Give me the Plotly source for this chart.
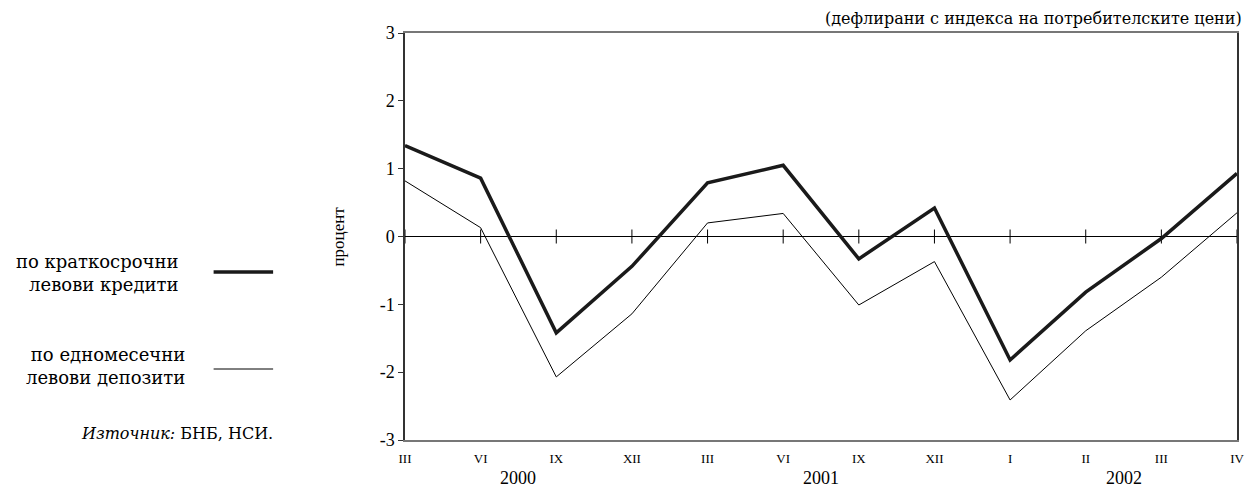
import plotly.graph_objects as go

periods = ["III", "VI", "IX", "XII", "III", "VI", "IX", "XII", "I", "II", "III", "IV"]
years = ["2000", "2001", "2002"]
year_pos = [1.5, 5.5, 9.5]
loans = [1.34, 0.86, -1.42, -0.44, 0.79, 1.05, -0.33, 0.42, -1.82, -0.82, -0.03, 0.93]
deposits = [0.82, 0.13, -2.07, -1.14, 0.20, 0.34, -1.01, -0.37, -2.41, -1.39, -0.60, 0.35]
y_ticks = [-3, -2, -1, 0, 1, 2, 3]
y_ticktext = ["-3", "-2", "-1", "0", "1", "2", "3"]

FONT = "Liberation Serif, Times New Roman, serif"
CYR = "DejaVu Serif, serif"
xs = list(range(len(periods)))

fig = go.Figure()
# zero-line tick marks
fig.add_trace(go.Scatter(x=xs, y=[0] * len(xs), mode="markers",
                         marker=dict(symbol="line-ns-open", size=10, color="black",
                                     line=dict(color="black", width=1)),
                         hoverinfo="skip", showlegend=False))
fig.add_trace(go.Scatter(x=xs, y=deposits, mode="lines",
                         line=dict(color="black", width=1),
                         name="по едномесечни левови депозити", showlegend=False))
fig.add_trace(go.Scatter(x=xs, y=loans, mode="lines",
                         line=dict(color="#1a1a1a", width=3.5),
                         name="по краткосрочни левови кредити", showlegend=False))

fig.update_layout(
    width=1248, height=479,
    margin=dict(l=397, r=12, t=25, b=47),
    paper_bgcolor="white", plot_bgcolor="white",
    font=dict(family=FONT, color="black", size=18),
    xaxis=dict(range=[0, 11], tickvals=xs, ticktext=periods, showgrid=False,
               zeroline=False, showline=True, linecolor="#777", linewidth=1.5,
               mirror=True, ticks="", ticklabelstandoff=6,
               tickfont=dict(size=13, family=FONT)),
    yaxis=dict(range=[-3, 3], tickvals=y_ticks, ticktext=y_ticktext, showgrid=False,
               zeroline=True, zerolinecolor="black", zerolinewidth=1,
               showline=True, linecolor="#333", linewidth=1.5, mirror=True,
               ticks="outside", ticklen=5, tickcolor="#333",
               tickfont=dict(size=18, family=FONT)),
)

def px_x(v):
    return (v - 405) / 839.0

def px_y(v):
    return (440 - v) / 407.0

for yr, p in zip(years, year_pos):
    fig.add_annotation(x=p, y=0, xref="x", yref="paper", text=yr, showarrow=False,
                       yanchor="top", yshift=-26, font=dict(size=18, family=FONT))

fig.add_annotation(x=px_x(338), y=px_y(237), xref="paper", yref="paper", text="процент",
                   textangle=-90, showarrow=False, xanchor="center", yanchor="middle",
                   font=dict(size=17, family=FONT))

fig.add_annotation(x=1, y=1, xref="paper", yref="paper", xanchor="right", yanchor="bottom",
                   yshift=3, xshift=7, text="(дефлирани с индекса на потребителските цени)",
                   showarrow=False, font=dict(size=16, family=CYR))

fig.add_annotation(x=px_x(178), y=px_y(273), xref="paper", yref="paper", xanchor="right",
                   yanchor="middle", align="right", showarrow=False,
                   text="по краткосрочни<br>левови кредити", font=dict(size=18, family=CYR))
fig.add_annotation(x=px_x(185), y=px_y(366), xref="paper", yref="paper", xanchor="right",
                   yanchor="middle", align="right", showarrow=False,
                   text="по едномесечни<br>левови депозити", font=dict(size=18, family=CYR))
fig.add_annotation(x=px_x(274), y=px_y(433), xref="paper", yref="paper", xanchor="right",
                   yanchor="middle", showarrow=False,
                   text="<i>Източник:</i> БНБ, НСИ.", font=dict(size=16, family=CYR))

fig.add_shape(type="line", xref="paper", yref="paper", x0=px_x(212), x1=px_x(272),
              y0=px_y(272), y1=px_y(272), line=dict(color="#1a1a1a", width=3.5))
fig.add_shape(type="line", xref="paper", yref="paper", x0=px_x(212), x1=px_x(272),
              y0=px_y(369), y1=px_y(369), line=dict(color="black", width=1))

fig.write_html("out.html")
